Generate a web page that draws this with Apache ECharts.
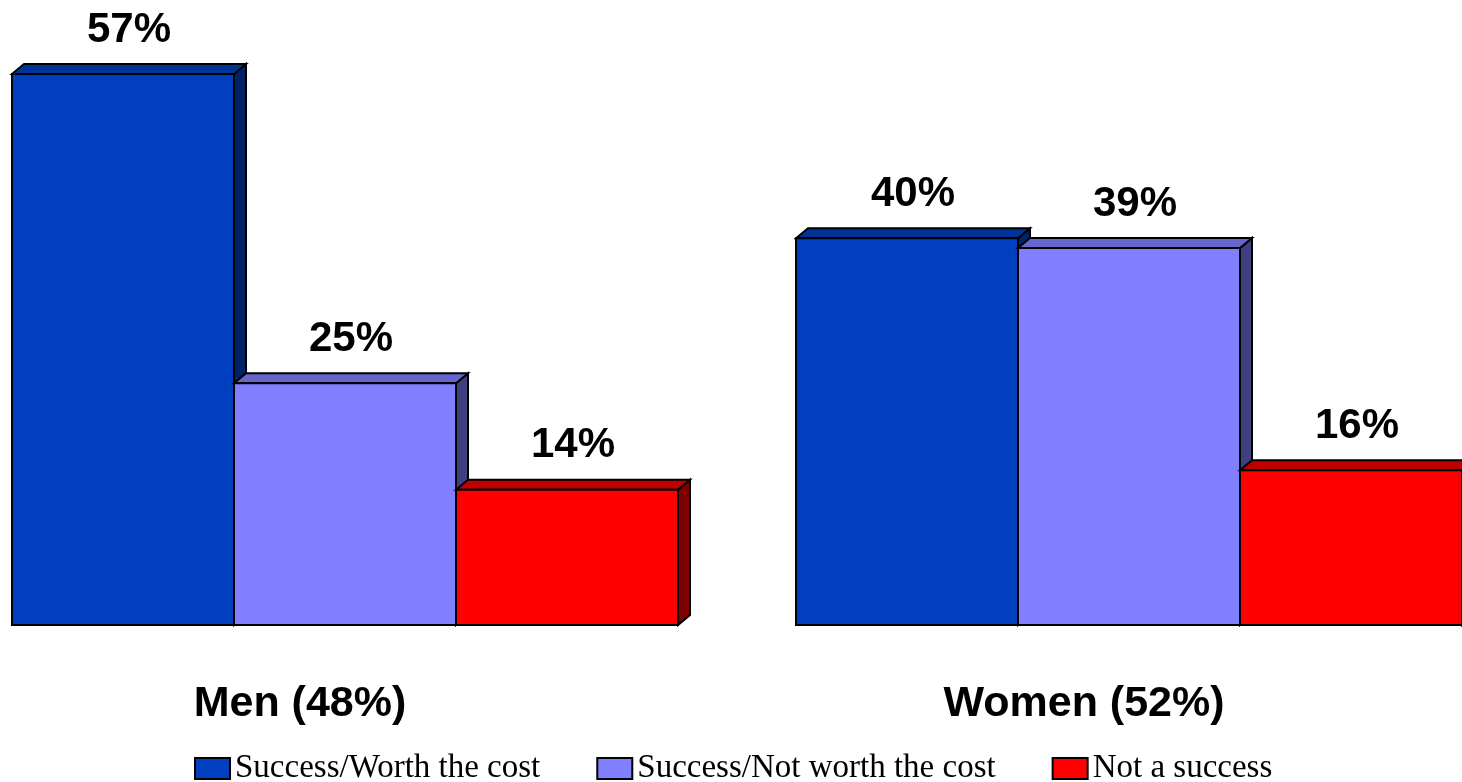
<!DOCTYPE html>
<html>
<head>
<meta charset="utf-8">
<script src="https://cdn.jsdelivr.net/npm/echarts@6/dist/echarts.min.js"></script>
<style>
html,body{margin:0;padding:0;background:#fff;}
#chart{width:1462px;height:782px;}
</style>
</head>
<body>
<div id="chart"></div>
<script>
var categories = ['Men (48%)', 'Women (52%)'];
var seriesNames = ['Success/Worth the cost', 'Success/Not worth the cost', 'Not a success'];
var worthCost = [57, 40];
var notWorthCost = [25, 39];
var notSuccess = [14, 16];

var seriesValues = [worthCost, notWorthCost, notSuccess];
var frontColors = ['#0040C0', '#8080FF', '#FF0000'];
var topColors = ['#003399', '#6666CC', '#C00000'];
var sideColors = ['#002266', '#404080', '#800000'];

var DX = 12, DY = 10;
var BAR_FRAC = 222 / 784;

function makeRender(s) {
  return function (params, api) {
    var i = api.value(0);
    var v = api.value(1);
    var unit = api.size([1, 0])[0];
    var barW = unit * BAR_FRAC;
    var center = api.coord([i, 0])[0];
    var base = api.coord([i, 0])[1];
    var yTop = api.coord([i, v])[1];
    var x0 = center - 1.5 * barW + s * barW;
    var x1 = x0 + barW;
    var stroke = {stroke: '#000', lineWidth: 2, lineJoin: 'miter'};
    return {
      type: 'group',
      children: [
        {type: 'polygon', shape: {points: [[x1, yTop], [x1 + DX, yTop - DY], [x1 + DX, base - DY], [x1, base]]},
          style: Object.assign({fill: sideColors[s]}, stroke)},
        {type: 'polygon', shape: {points: [[x0, yTop], [x0 + DX, yTop - DY], [x1 + DX, yTop - DY], [x1, yTop]]},
          style: Object.assign({fill: topColors[s]}, stroke)},
        {type: 'rect', shape: {x: x0, y: yTop, width: barW, height: base - yTop},
          style: Object.assign({fill: frontColors[s]}, stroke)},
        {type: 'text', x: (x0 + x1) / 2 + DX / 2, y: yTop - 44,
          style: {text: v + '%', fill: '#000', font: 'bold 42px "Liberation Sans", Arial, sans-serif',
            textAlign: 'center', textVerticalAlign: 'middle'}}
      ]
    };
  };
}

var series = seriesValues.map(function (vals, s) {
  return {
    type: 'custom',
    name: seriesNames[s],
    renderItem: makeRender(s),
    clip: false,
    itemStyle: {color: frontColors[s], borderColor: '#000', borderWidth: 2},
    encode: {x: 0, y: 1},
    data: vals.map(function (v, i) { return [i, v]; })
  };
});

var chart = echarts.init(document.getElementById('chart'), null, {renderer: 'canvas'});
chart.setOption({
  animation: false,
  backgroundColor: '#fff',
  grid: {left: 0, right: 0, top: 45, bottom: 157, containLabel: false},
  xAxis: {
    type: 'value',
    min: -345 / 784,
    max: (1462 - 345) / 784,
    splitLine: {show: false},
    axisLine: {show: false},
    axisTick: {show: false},
    axisLabel: {
      customValues: [0, 1],
      formatter: function (v) { return categories[Math.round(v)]; },
      margin: 58,
      color: '#000',
      fontFamily: '"Liberation Sans", Arial, sans-serif',
      fontWeight: 'bold',
      fontSize: 43,
      padding: [0, 90, 0, 0]
    }
  },
  yAxis: {
    type: 'value', min: 0, max: 60,
    show: false
  },
  legend: {
    left: 194, top: 752, padding: 0,
    itemWidth: 35, itemHeight: 21, itemGap: 56,
    icon: 'rect',
    textStyle: {fontFamily: '"Liberation Serif", "Times New Roman", serif', fontSize: 33, color: '#000'},
    data: seriesNames.map(function (n, s) {
      return {name: n, itemStyle: {color: frontColors[s], borderColor: '#000', borderWidth: 2}};
    })
  },
  series: series
});
</script>
</body>
</html>
